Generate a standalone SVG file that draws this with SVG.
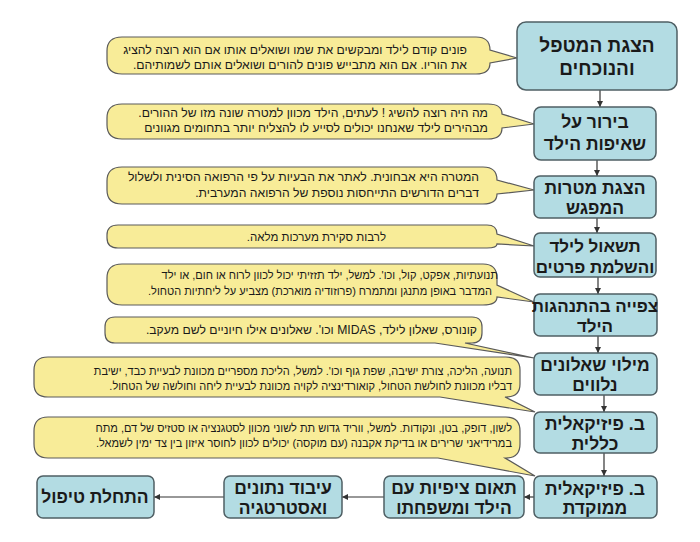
<svg xmlns="http://www.w3.org/2000/svg" width="700" height="542" viewBox="0 0 700 542">
<defs>
<style>
.box{fill:#b3dce3;stroke:#4f5f64;stroke-width:1.5}
.bt{font-family:"Liberation Sans",Arial,sans-serif;font-weight:bold;font-size:17.5px;fill:#1a1a1a;text-anchor:middle;direction:rtl}
.co{fill:#f8ec98;stroke:#5a5a5a;stroke-width:1.2}
.ct{font-family:"Liberation Sans",Arial,sans-serif;font-size:11px;fill:#1a1a1a;direction:rtl;text-anchor:start}
.big{font-size:12.2px}
.ar{stroke:#333;stroke-width:1.2;fill:none;marker-end:url(#ah)}
</style>
<marker id="ah" viewBox="0 0 10 10" refX="10" refY="5" markerWidth="6" markerHeight="6" orient="auto" markerUnits="userSpaceOnUse">
<path d="M0,0 L10,5 L0,10 Z" fill="#333"/>
</marker>
</defs>
<rect width="700" height="542" fill="#fff"/>

<g id="connectors">
<line class="ar" x1="600" y1="90" x2="600" y2="107"/>
<line class="ar" x1="597" y1="160" x2="597" y2="176"/>
<line class="ar" x1="597" y1="218" x2="597" y2="233"/>
<line class="ar" x1="598" y1="277" x2="598" y2="294"/>
<line class="ar" x1="598" y1="336" x2="598" y2="353"/>
<line class="ar" x1="604" y1="395" x2="604" y2="412"/>
<line class="ar" x1="604" y1="453" x2="604" y2="476"/>
<line class="ar" x1="534" y1="497" x2="524" y2="497"/>
<line class="ar" x1="384" y1="497" x2="342" y2="497"/>
<line class="ar" x1="224" y1="497" x2="154" y2="497"/>
</g>

<g id="callout1">
<path class="co" d="M122,37 H476 Q490,37 490,50 L517,58 L490,63 Q490,74 476,74 H122 Q107,74 107,60 V51 Q107,37 122,37 Z"/>
<text class="ct big" x="467" y="54">פונים קודם לילד ומבקשים את שמו ושואלים אותו אם הוא רוצה להציג</text>
<text class="ct big" x="467" y="69">את הוריו.   אם הוא מתבייש פונים להורים ושואלים אותם לשמותיהם.</text>
</g>
<g id="callout2">
<path class="co" d="M122,104 H488 Q502,104 502,114 L534,124 L502,128 Q502,139 488,139 H122 Q107,139 107,125 V118 Q107,104 122,104 Z"/>
<text class="ct big" x="488" y="117">מה היה רוצה להשיג ! לעתים,  הילד מכוון למטרה שונה מזו של ההורים.</text>
<text class="ct big" x="488" y="132">מבהירים לילד שאנחנו יכולים לסייע לו להצליח יותר בתחומים מגוונים</text>
</g>
<g id="callout3">
<path class="co" d="M122,167 H483 Q497,167 497,180 L534,190 L497,194 Q497,204 483,204 H122 Q107,204 107,190 V181 Q107,167 122,167 Z"/>
<text class="ct big" x="479" y="181">המטרה היא אבחונית. לאתר את הבעיות על פי הרפואה הסינית ולשלול</text>
<text class="ct big" x="479" y="197">דברים הדורשים התייחסות נוספת של הרפואה המערבית.</text>
</g>
<g id="callout4">
<path class="co" d="M118,225 H487 Q497,225 497,234 L534,246 L497,244 Q497,248 487,248 H118 Q107,248 107,238 V235 Q107,225 118,225 Z"/>
<text class="ct" x="386" y="241" style="font-size:11.5px">לרבות סקירת מערכות מלאה.</text>
</g>
<g id="callout5">
<path class="co" d="M122,264 H483 Q497,264 497,278 V285 L534,302 L497,297 Q497,305 483,305 H122 Q107,305 107,291 V278 Q107,264 122,264 Z"/>
<text class="ct" x="498" y="279">תנועתיות, אפקט, קול, וכו'. למשל, ילד תזזיתי יכול לכוון לרוח או חום, או ילד</text>
<text class="ct" x="492" y="295">המדבר באופן מתנגן ומתמרח (פרוזודיה מוארכת) מצביע על ליחתיות הטחול.</text>
</g>
<g id="callout6">
<path class="co" d="M115,317 H472 Q482,317 482,327 V333 Q482,343 472,343 H465 L534,358 L435,343 H115 Q105,343 105,333 V327 Q105,317 115,317 Z"/>
<text class="ct big" x="477" y="334">קונורס, שאלון לילד, MIDAS וכו'. שאלונים אילו חיוניים לשם מעקב.</text>
</g>
<g id="callout7">
<path class="co" d="M48,357 H506 Q520,357 520,370 V384 Q520,397 506,397 H505 L535,412 L440,397 H48 Q34,397 34,384 V370 Q34,357 48,357 Z"/>
<text class="ct" x="512" y="375">תנועה, הליכה, צורת ישיבה, שפת גוף וכו'. למשל, הליכת מספריים מכוונת לבעיית כבד, ישיבת</text>
<text class="ct" x="512" y="390">דבליו מכוונת לחולשת הטחול, קואורדינציה לקויה מכוונת לבעיית ליחה וחולשה של הטחול.</text>
</g>
<g id="callout8">
<path class="co" d="M48,417 H506 Q520,417 520,431 V444 Q520,458 506,458 H505 L535,476 L438,458 H48 Q34,458 34,444 V431 Q34,417 48,417 Z"/>
<text class="ct" x="512" y="432">לשון, דופק, בטן, ונקודות. למשל, ווריד גדוש תת לשוני מכוון לסטגנציה או סטזיס של דם, מתח</text>
<text class="ct" x="512" y="447">במרידיאני שרירים או בדיקת אקבנה (עם מוקסה) יכולים לכוון לחוסר איזון בין צד ימין לשמאל.</text>
</g>

<g id="box1"><rect class="box" x="517" y="22" width="160" height="68" rx="9"/>
<text class="bt" x="597" y="52" style="font-size:19px">הצגת המטפל</text><text class="bt" x="597" y="75" style="font-size:19px">והנוכחים</text></g>
<g id="box2"><rect class="box" x="534" y="107" width="122" height="53" rx="7"/>
<text class="bt" x="595" y="128">בירור על</text><text class="bt" x="595" y="150">שאיפות הילד</text></g>
<g id="box3"><rect class="box" x="534" y="176" width="122" height="42" rx="6"/>
<text class="bt" x="595" y="194">הצגת מטרות</text><text class="bt" x="595" y="214">המפגש</text></g>
<g id="box4"><rect class="box" x="534" y="233" width="122" height="44" rx="6"/>
<text class="bt" x="595" y="252" style="font-size:17px">תשאול לילד</text><text class="bt" x="595" y="273" style="font-size:17px">והשלמת פרטים</text></g>
<g id="box5"><rect class="box" x="534" y="294" width="123" height="42" rx="6"/>
<text class="bt" x="595" y="312" style="font-size:17px">צפייה בהתנהגות</text><text class="bt" x="595" y="332" style="font-size:17px">הילד</text></g>
<g id="box6"><rect class="box" x="534" y="353" width="123" height="42" rx="6"/>
<text class="bt" x="595" y="371">מילוי שאלונים</text><text class="bt" x="595" y="391">נלווים</text></g>
<g id="box7"><rect class="box" x="534" y="412" width="123" height="41" rx="6"/>
<text class="bt" x="595" y="430">ב. פיזיקאלית</text><text class="bt" x="595" y="450">כללית</text></g>
<g id="box8"><rect class="box" x="534" y="476" width="123" height="42" rx="6"/>
<text class="bt" x="595" y="495">ב. פיזיקאלית</text><text class="bt" x="595" y="514">ממוקדת</text></g>
<g id="box9"><rect class="box" x="384" y="476" width="140" height="42" rx="6"/>
<text class="bt" x="454" y="494">תאום ציפיות עם</text><text class="bt" x="454" y="514">הילד ומשפחתו</text></g>
<g id="box10"><rect class="box" x="224" y="476" width="118" height="42" rx="6"/>
<text class="bt" x="283" y="494">עיבוד נתונים</text><text class="bt" x="283" y="514">ואסטרטגיה</text></g>
<g id="box11"><rect class="box" x="37" y="476" width="117" height="42" rx="6"/>
<text class="bt" x="95" y="503">התחלת טיפול</text></g>
</svg>
